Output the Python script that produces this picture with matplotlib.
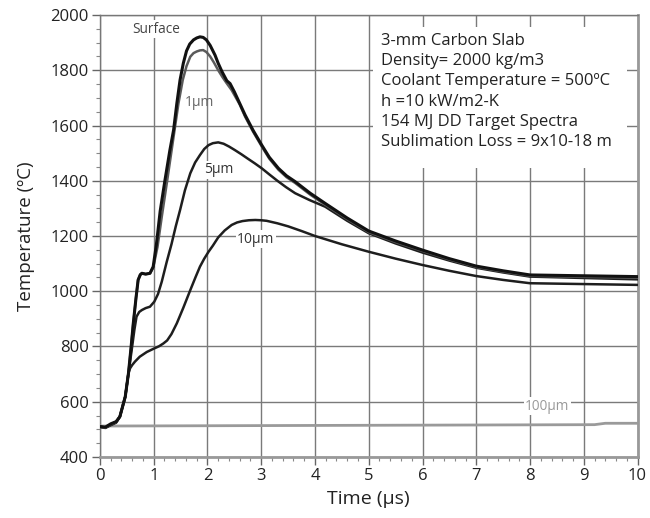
import numpy as np
import matplotlib
matplotlib.use('Agg')
import matplotlib.pyplot as plt
from matplotlib.patches import Rectangle
from matplotlib.ticker import MultipleLocator

plt.rcParams['font.family'] = ['Open Sans', 'DejaVu Sans']

# ---------------- data ----------------
t_surf = [0, 0.1, 0.2, 0.3, 0.37, 0.47, 0.53, 0.58, 0.62, 0.67, 0.71, 0.75, 0.78, 0.85, 0.93,
          0.99, 1.05, 1.12, 1.21, 1.3, 1.37, 1.43, 1.49, 1.55, 1.61, 1.67, 1.74, 1.8, 1.86,
          1.92, 1.98, 2.05, 2.14, 2.2, 2.27, 2.36, 2.42, 2.5, 2.6, 2.7, 2.85, 3.01, 3.15,
          3.32, 3.47, 3.63, 3.91, 4.19, 4.6, 5, 5.5, 6, 6.5, 7, 7.5, 8, 9, 10]
T_surf = [510, 508, 520, 528, 546, 618, 703, 800, 884, 975, 1041, 1060, 1065, 1062, 1065,
          1089, 1170, 1290, 1403, 1510, 1584, 1680, 1765, 1825, 1870, 1895, 1910, 1917, 1921,
          1919, 1910, 1890, 1855, 1825, 1795, 1762, 1752, 1722, 1680, 1638, 1582, 1529, 1485,
          1445, 1418, 1397, 1355, 1318, 1265, 1218, 1182, 1149, 1118, 1091, 1074, 1059, 1056, 1053]

t_1um = [0, 0.1, 0.2, 0.3, 0.37, 0.47, 0.53, 0.58, 0.62, 0.67, 0.71, 0.75, 0.78, 0.85, 0.93,
         0.99, 1.07, 1.15, 1.25, 1.37, 1.46, 1.54, 1.61, 1.68, 1.74, 1.8, 1.86, 1.92, 1.98,
         2.05, 2.12, 2.2, 2.28, 2.35, 2.45, 2.6, 2.7, 2.85, 3.01, 3.15, 3.32, 3.47, 3.63,
         3.91, 4.19, 4.6, 5, 5.5, 6, 6.5, 7, 7.5, 8, 9, 10]
T_1um = [508, 506, 518, 526, 546, 618, 703, 800, 884, 975, 1041, 1060, 1065, 1062, 1065,
         1085, 1160, 1270, 1400, 1560, 1680, 1765, 1815, 1849, 1862, 1868, 1872, 1873, 1866,
         1850, 1828, 1800, 1775, 1755, 1728, 1676, 1632, 1577, 1524, 1480, 1440, 1413, 1392,
         1350, 1313, 1261, 1214, 1178, 1146, 1115, 1088, 1071, 1056, 1052, 1049]

t_5um = [0, 0.1, 0.2, 0.3, 0.37, 0.47, 0.53, 0.59, 0.64, 0.68, 0.73, 0.78, 0.85, 0.93,
         1.01, 1.08, 1.15, 1.24, 1.33, 1.41, 1.49, 1.58, 1.68, 1.77, 1.86, 1.94, 2.02,
         2.1, 2.2, 2.3, 2.4, 2.51, 2.63, 2.75, 2.88, 3.01, 3.15, 3.3, 3.46, 3.63, 3.9,
         4.19, 4.6, 5, 5.5, 6, 6.5, 7, 7.5, 8, 9, 10]
T_5um = [510, 506, 518, 526, 546, 618, 703, 787, 860, 908, 925, 932, 939, 944,
         962, 990, 1035, 1105, 1170, 1235, 1294, 1365, 1427, 1466, 1493, 1515, 1529,
         1536, 1539, 1534, 1524, 1511, 1496, 1480, 1463, 1445, 1423, 1400, 1377, 1355, 1330,
         1306, 1255, 1210, 1173, 1140, 1111, 1085, 1068, 1053, 1048, 1043]

t_10um = [0, 0.1, 0.2, 0.3, 0.37, 0.47, 0.53, 0.56, 0.6, 0.65, 0.74, 0.87, 1.01, 1.1,
          1.18, 1.25, 1.33, 1.43, 1.55, 1.68, 1.78, 1.86, 1.94, 2.02, 2.1, 2.2, 2.32,
          2.45, 2.55, 2.65, 2.77, 2.89, 3.0, 3.1, 3.3, 3.5, 3.75, 4, 4.5, 5, 5.5, 6, 6.5,
          7, 7.5, 8, 9, 10]
T_10um = [510, 505, 515, 524, 546, 618, 703, 721, 733, 745, 763, 780, 793, 801,
          811, 822, 845, 884, 940, 1004, 1052, 1089, 1118, 1143, 1165, 1195, 1220,
          1240, 1249, 1254, 1257, 1258, 1257, 1255, 1246, 1235, 1218, 1200, 1170, 1143, 1118,
          1095, 1074, 1055, 1041, 1029, 1026, 1023]

t_100um = [0, 9.2, 9.4, 10]
T_100um = [512, 517, 522, 522]

info = ('3-mm Carbon Slab\nDensity= 2000 kg/m3\nCoolant Temperature = 500\u00baC\n'
        'h =10 kW/m2-K\n154 MJ DD Target Spectra\nSublimation Loss = 9x10-18 m')

# ---------------- plot ----------------
fig = plt.figure(figsize=(6.5, 5.18), dpi=100)
ax = fig.add_axes([0.1538, 0.1178, 0.8270, 0.8532])

style = dict(solid_joinstyle='round', solid_capstyle='round')
ax.plot(t_100um, T_100um, color='#9a9a9a', lw=2.0, zorder=3, **style)
ax.plot(t_10um, T_10um, color='#1e1e1e', lw=1.8, zorder=4, **style)
ax.plot(t_5um, T_5um, color='#1e1e1e', lw=1.8, zorder=4, **style)
ax.plot(t_1um, T_1um, color='#5a5a5a', lw=1.8, zorder=5, **style)
ax.plot(t_surf, T_surf, color='#111111', lw=2.2, zorder=6, **style)

wb = dict(facecolor='white', edgecolor='none', pad=1.0)
ax.text(1.04, 1949, 'Surface', fontsize=9.8, color='#444444', ha='center', va='center', bbox=wb, zorder=7)
ax.text(1.86, 1682, '1\u03bcm', fontsize=10, color='#666666', ha='center', va='center', zorder=7)
ax.text(2.21, 1439, '5\u03bcm', fontsize=10, color='#333333', ha='center', va='center', bbox=wb, zorder=7)
ax.text(2.90, 1188, '10\u03bcm', fontsize=10, color='#333333', ha='center', va='center', bbox=wb, zorder=7)
ax.text(8.32, 584, '100\u03bcm', fontsize=9.8, color='#999999', ha='center', va='center', bbox=wb, zorder=7)

ax.add_patch(Rectangle((5.07, 1446), 4.74, 511, facecolor='white', edgecolor='none', zorder=2))
info_txt = ax.text(5.23, 1936, info, fontsize=12, color='#222222', ha='left', va='top',
                   linespacing=1.36, zorder=7)

ax.set_xlim(0, 10)
ax.set_ylim(400, 2000)
ax.xaxis.set_major_locator(MultipleLocator(1))
ax.xaxis.set_minor_locator(MultipleLocator(0.2))
ax.yaxis.set_major_locator(MultipleLocator(200))
ax.yaxis.set_minor_locator(MultipleLocator(50))
ax.grid(True, which='major', color='#7a7a7a', lw=1.0, zorder=1)
ax.set_axisbelow(True)

ax.tick_params(which='major', direction='out', length=6, width=1, color='#666666',
               labelsize=12, labelcolor='#222222', pad=2)
ax.tick_params(which='minor', direction='out', length=3, width=0.8, color='#888888')
for side in ['left', 'top']:
    ax.spines[side].set_color('#777777')
    ax.spines[side].set_linewidth(1.0)
for side in ['bottom', 'right']:
    ax.spines[side].set_color('#999999')
    ax.spines[side].set_linewidth(2.0)

ax.set_xlabel('Time (\u03bcs)', fontsize=14, color='#222222', labelpad=4)
ax.set_ylabel('Temperature (\u00baC)', fontsize=13.5, color='#222222', labelpad=11)

# fit the info block to the width it has in the original (~231 px)
fig.canvas.draw()
w = info_txt.get_window_extent().width
info_txt.set_fontsize(12 * 231.0 / w)

fig.savefig('out.png', dpi=100)
plt.close()
